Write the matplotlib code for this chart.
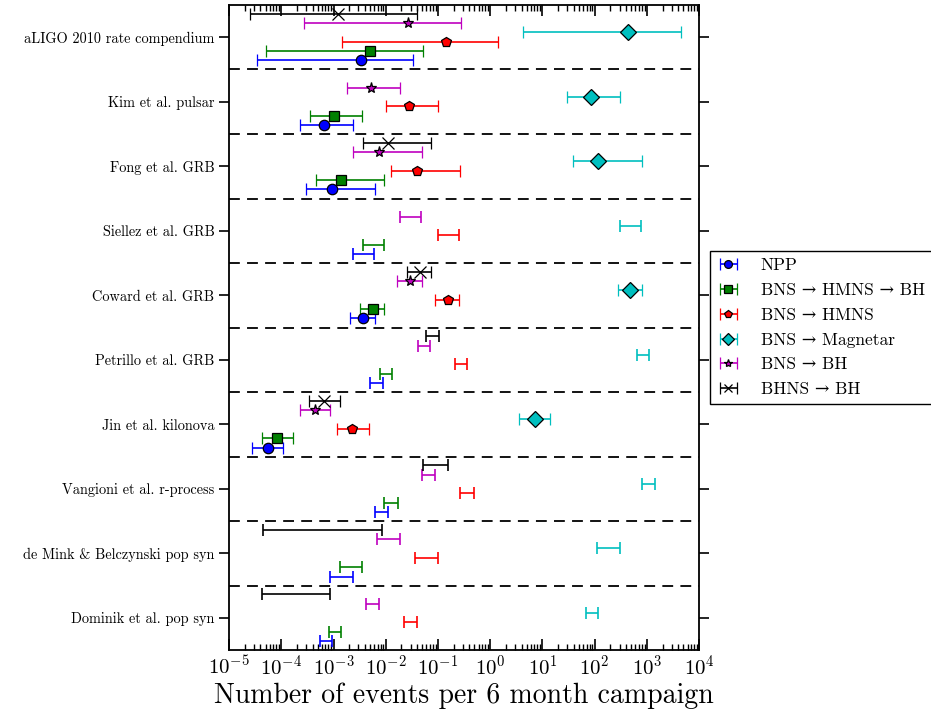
import matplotlib
matplotlib.use('Agg')
import matplotlib.pyplot as plt
from matplotlib.ticker import LogLocator, NullFormatter
import numpy as np

plt.rcParams['font.family'] = ['cmr10', 'DejaVu Serif']
plt.rcParams['mathtext.fontset'] = 'cm'
plt.rcParams['axes.formatter.use_mathtext'] = True

# rate estimates, rows from top to bottom
categories = ['aLIGO 2010 rate compendium', 'Kim et al. pulsar', 'Fong et al. GRB',
              'Siellez et al. GRB', 'Coward et al. GRB', 'Petrillo et al. GRB',
              'Jin et al. kilonova', 'Vangioni et al. r-process',
              'de Mink & Belczynski pop syn', 'Dominik et al. pop syn']

series_names = ['NPP', 'BNS \u2192 HMNS \u2192 BH', 'BNS \u2192 HMNS',
                'BNS \u2192 Magnetar', 'BNS \u2192 BH', 'BHNS \u2192 BH']

N = None
# (low, mid, high) per category; mid None = range only, all None = not shown
npp_low = [3.4e-5, 2.3e-4, 3.0e-4, 2.4e-3, 2.1e-3, 5.1e-3, 2.75e-5, 6.3e-3, 8.7e-4, 5.4e-4]
npp_mid = [3.4e-3, 6.7e-4, 9.3e-4, N, 3.7e-3, N, 5.5e-5, N, N, N]
npp_high = [3.3e-2, 2.4e-3, 6.3e-3, 6.0e-3, 6.2e-3, 8.7e-3, 1.1e-4, 1.12e-2, 2.34e-3, 9.3e-4]

hb_low = [5.1e-5, 3.5e-4, 4.6e-4, 3.6e-3, 3.2e-3, 7.7e-3, 4.2e-5, 9.3e-3, 1.32e-3, 8.1e-4]
hb_mid = [5.1e-3, 1.0e-3, 1.4e-3, N, 5.6e-3, N, 8.3e-5, N, N, N]
hb_high = [5.1e-2, 3.5e-3, 9.3e-3, 9.1e-3, 9.3e-3, 1.3e-2, 1.7e-4, 1.7e-2, 3.55e-3, 1.41e-3]

hmns_low = [1.45e-3, 1.0e-2, 1.26e-2, 0.1, 8.9e-2, 0.214, 1.15e-3, 0.263, 3.6e-2, 2.24e-2]
hmns_mid = [0.14, 2.8e-2, 3.9e-2, N, 0.155, N, 2.3e-3, N, N, N]
hmns_high = [1.4, 0.1, 0.26, 0.257, 0.257, 0.367, 4.7e-3, 0.479, 9.8e-2, 3.9e-2]

mag_low = [4.3, 29.5, 38, 309, 275, 646, 3.57, 787, 110, 67.6]
mag_mid = [430, 85, 117, N, 479, N, 7.1, N, N, N]
mag_high = [4400, 302, 794, 776, 794, 1096, 14.1, 1445, 299, 116]

bh_low = [2.7e-4, 1.84e-3, 2.4e-3, 1.9e-2, 1.66e-2, 4.1e-2, 2.24e-4, 4.9e-2, 6.9e-3, 4.2e-3]
bh_mid = [2.7e-2, 5.2e-3, 7.4e-3, N, 2.95e-2, N, 4.4e-4, N, N, N]
bh_high = [0.27, 1.9e-2, 5.0e-2, 4.8e-2, 4.9e-2, 6.9e-2, 8.7e-4, 8.9e-2, 1.86e-2, 7.4e-3]

bhns_low = [2.5e-5, N, 3.6e-3, N, 2.57e-2, 6.0e-2, 3.4e-4, 5.2e-2, 4.4e-5, 4.3e-5]
bhns_mid = [1.2e-3, N, 1.1e-2, N, 4.5e-2, N, 6.6e-4, N, N, N]
bhns_high = [4.0e-2, N, 7.5e-2, N, 7.5e-2, 0.1035, 1.35e-3, 0.155, 8.3e-3, 8.5e-4]

lows = [npp_low, hb_low, hmns_low, mag_low, bh_low, bhns_low]
mids = [npp_mid, hb_mid, hmns_mid, mag_mid, bh_mid, bhns_mid]
highs = [npp_high, hb_high, hmns_high, mag_high, bh_high, bhns_high]

colors = ['b', 'g', 'r', 'c', 'm', 'k']
markers = ['o', 's', 'p', 'D', '*', 'x']
sizes = [7.5, 7.5, 7.5, 8.5, 8, 8]

fig = plt.figure(figsize=(9.31, 7.12), dpi=100)
ax = fig.add_axes([0.246, 0.087, 0.505, 0.906])

offsets = [0.36, 0.215, 0.07, -0.075, -0.22, -0.365]

for s in range(6):
    handle = None
    for i in range(len(categories)):
        lo, mi, hi = lows[s][i], mids[s][i], highs[s][i]
        if lo is None:
            continue
        y = i + offsets[s]
        if mi is not None:
            h = ax.errorbar([mi], [y], xerr=[[mi - lo], [hi - mi]], fmt=markers[s],
                            color=colors[s], ecolor=colors[s], mfc=colors[s],
                            mec='k', ms=sizes[s], capsize=4, elinewidth=1.2,
                            capthick=1.2, mew=0.9)
            if handle is None:
                handle = h
        else:
            ax.errorbar([lo], [y], xerr=[[0], [hi - lo]], fmt='none',
                        ecolor=colors[s], capsize=4, elinewidth=1.2, capthick=1.2)
    handle.set_label(series_names[s])

for k in range(len(categories) - 1):
    ax.axhline(k + 0.5, color='k', ls='--', lw=1.3, dashes=(6, 4))

ax.set_xscale('log')
ax.set_xlim(1e-5, 1e4)
ax.xaxis.set_major_locator(LogLocator(base=10, numticks=20))
ax.xaxis.set_minor_locator(LogLocator(base=10, subs=np.arange(2, 10), numticks=20))
ax.xaxis.set_minor_formatter(NullFormatter())
ax.set_ylim(len(categories) - 0.5, -0.5)
ax.set_yticks(range(len(categories)))
ax.set_yticklabels(categories, fontsize=10.3)
ax.tick_params(axis='y', direction='out', left=True, right=True, length=7, width=1.2)
ax.tick_params(axis='x', which='both', direction='in', top=True, bottom=True, labelsize=15)
ax.tick_params(axis='x', which='major', length=8, width=1.2)
ax.tick_params(axis='x', which='minor', length=4, width=1)
for sp in ax.spines.values():
    sp.set_linewidth(1.3)
ax.set_xlabel('Number of events per 6 month campaign', fontsize=20, labelpad=2)

ax.legend(loc='center left', bbox_to_anchor=(1.005, 0.5), fontsize=12.5, numpoints=1,
          fancybox=False, edgecolor='k', framealpha=1, handlelength=1.3,
          markerscale=0.75, labelspacing=0.55, handletextpad=1.2)

fig.savefig('out.png', dpi=100)
